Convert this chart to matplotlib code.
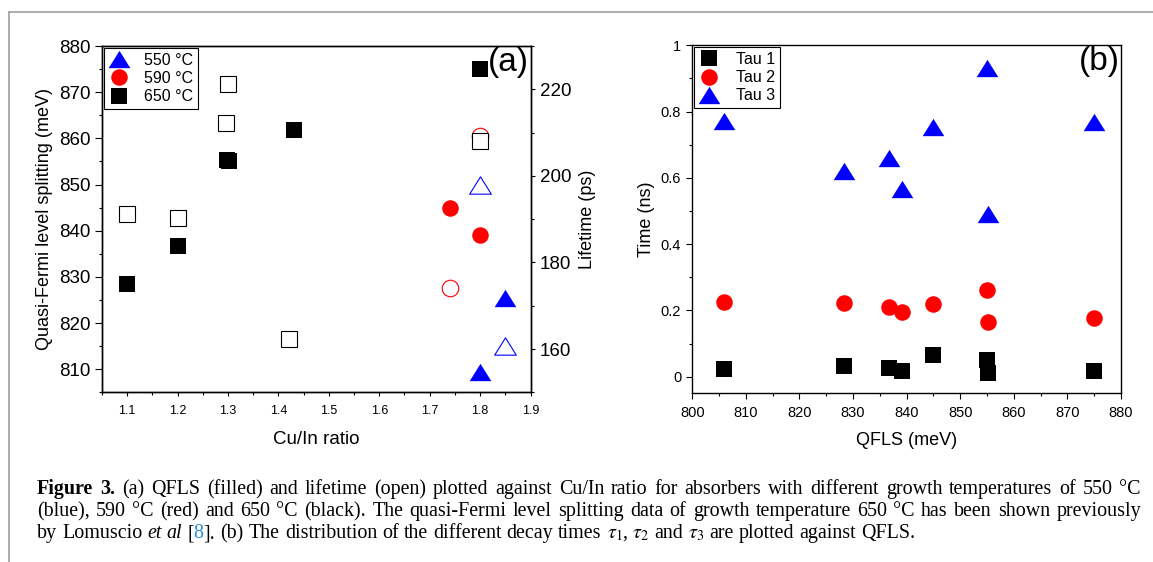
import matplotlib
matplotlib.use('Agg')
import matplotlib.pyplot as plt
from matplotlib.lines import Line2D
from matplotlib.path import Path
from matplotlib.ticker import MultipleLocator

plt.rcParams['font.family'] = ['Liberation Sans', 'DejaVu Sans']
plt.rcParams['mathtext.fontset'] = 'stix'

# (a) QFLS (filled, left axis) against Cu/In ratio
ratio_550 = [1.85, 1.80]
qfls_550 = [825.5, 809.3]
ratio_590 = [1.74, 1.80]
qfls_590 = [845.0, 839.0]
ratio_650 = [1.10, 1.20, 1.298, 1.302, 1.43, 1.80]
qfls_650 = [828.4, 836.6, 855.4, 855.0, 861.8, 875.1]

# (a) lifetime (open, right axis)
lt_ratio_550 = [1.80, 1.85]
lt_550 = [197.8, 160.7]
lt_ratio_590 = [1.74, 1.80]
lt_590 = [174.2, 209.2]
lt_ratio_650 = [1.10, 1.20, 1.296, 1.299, 1.42, 1.80]
lt_650 = [191.1, 190.2, 212.1, 221.2, 162.2, 208.1]

# (b) decay times against QFLS
qfls_b = [806.0, 828.3, 836.7, 839.1, 845.0, 855.0, 855.2, 875.0]
tau1 = [0.022, 0.032, 0.027, 0.017, 0.065, 0.050, 0.010, 0.016]
tau2 = [0.226, 0.223, 0.209, 0.194, 0.220, 0.261, 0.164, 0.177]
tau3 = [0.771, 0.622, 0.659, 0.565, 0.755, 0.933, 0.490, 0.770]

W, H = 1153, 562
fig = plt.figure(figsize=(W / 100, H / 100), dpi=100)


def px(x, y):
    return x / W, 1 - y / H


def box(l, t, r, b):
    return [l / W, 1 - b / H, (r - l) / W, (b - t) / H]


# wide triangle like the Origin symbol
tri = Path([(0, 1), (-1.25, -1), (1.25, -1), (0, 1)],
           [Path.MOVETO, Path.LINETO, Path.LINETO, Path.CLOSEPOLY])
ms_sq, ms_ci, ms_tr = 11.5, 11.9, 15.6

# ---------- panel (a) ----------
ax1 = fig.add_axes(box(102, 46, 530.5, 392.3))
ax1.plot(ratio_550, qfls_550, ls='none', marker=tri, ms=ms_tr, color='#0000ff', mew=0, label='550 °C')
ax1.plot(ratio_590, qfls_590, ls='none', marker='o', ms=ms_ci, color='#ff0000', mew=0, label='590 °C')
ax1.plot(ratio_650, qfls_650, ls='none', marker='s', ms=ms_sq, color='black', mew=0, label='650 °C')
ax1.set_xlim(1.05, 1.9)
ax1.set_ylim(805, 880)
ax1.set_xticks([1.1, 1.2, 1.3, 1.4, 1.5, 1.6, 1.7, 1.8, 1.9])
ax1.set_xticklabels(['1.1', '1.2', '1.3', '1.4', '1.5', '1.6', '1.7', '1.8', '1.9'])
ax1.xaxis.set_minor_locator(MultipleLocator(0.05))
ax1.yaxis.set_major_locator(MultipleLocator(10))
ax1.yaxis.set_minor_locator(MultipleLocator(5))
ax1.tick_params(axis='y', which='major', labelsize=13.5, length=5, width=0.8, direction='out')
ax1.tick_params(axis='y', which='minor', length=2.5, width=0.8, direction='out')
ax1.tick_params(axis='x', which='major', labelsize=9, length=3, width=0.8, direction='out', pad=6.5)
ax1.tick_params(axis='x', which='minor', length=2.5, width=0.8, direction='out')
ax1.set_xlabel('Cu/In ratio', fontsize=13.5, labelpad=10)
ax1.set_ylabel('Quasi-Fermi level splitting (meV)', fontsize=13, labelpad=4)
ax1.text(0.997, 0.997, '(a)', transform=ax1.transAxes, ha='right', va='top', fontsize=24)
leg = ax1.legend(loc='upper left', fontsize=11.5, borderaxespad=0.12, fancybox=False,
                 edgecolor='black', framealpha=1, handlelength=1.3, handletextpad=0.9,
                 borderpad=0.3, labelspacing=0.2)
leg.get_frame().set_linewidth(0.8)

ax2 = ax1.twinx()
ax2.plot(lt_ratio_590, lt_590, ls='none', marker='o', ms=ms_ci, mfc='white', mec='#ff0000', mew=0.8)
ax2.plot(lt_ratio_650, lt_650, ls='none', marker='s', ms=ms_sq, mfc='white', mec='black', mew=0.8)
ax2.plot(lt_ratio_550, lt_550, ls='none', marker=tri, ms=ms_tr, mfc='white', mec='#0000ff', mew=0.8)
ax2.set_ylim(150, 230)
ax2.set_yticks([160, 180, 200, 220])
ax2.yaxis.set_minor_locator(MultipleLocator(10))
ax2.tick_params(axis='y', which='major', labelsize=13.5, length=3, width=0.8, direction='out')
ax2.tick_params(axis='y', which='minor', length=2.5, width=0.8, direction='out')
ax2.set_ylabel('Lifetime (ps)', fontsize=13, labelpad=6)
for a in (ax1, ax2):
    for s in a.spines.values():
        s.set_linewidth(1.0)

# ---------- panel (b) ----------
bx = fig.add_axes(box(692.3, 45.3, 1121, 393.3))
bx.plot(qfls_b, tau1, ls='none', marker='s', ms=ms_sq, color='black', mew=0, label='Tau 1')
bx.plot(qfls_b, tau2, ls='none', marker='o', ms=ms_ci, color='#ff0000', mew=0, label='Tau 2')
bx.plot(qfls_b, tau3, ls='none', marker=tri, ms=ms_tr, color='#0000ff', mew=0, label='Tau 3')
bx.set_xlim(800, 880)
bx.set_ylim(-0.05, 1.0)
bx.xaxis.set_major_locator(MultipleLocator(10))
bx.xaxis.set_minor_locator(MultipleLocator(5))
bx.set_yticks([0, 0.2, 0.4, 0.6, 0.8, 1.0])
bx.set_yticklabels(['0', '0.2', '0.4', '0.6', '0.8', '1'])
bx.yaxis.set_minor_locator(MultipleLocator(0.1))
bx.tick_params(which='major', labelsize=10.5, length=4.5, width=0.8, direction='out')
bx.tick_params(axis='x', which='major', pad=5)
bx.tick_params(which='minor', length=2.5, width=0.8, direction='out')
bx.set_xlabel('QFLS (meV)', fontsize=13, labelpad=8)
bx.set_ylabel('Time (ns)', fontsize=13, labelpad=4)
bx.text(0.997, 0.997, '(b)', transform=bx.transAxes, ha='right', va='top', fontsize=24)
leg = bx.legend(loc='upper left', fontsize=11.5, borderaxespad=0.12, fancybox=False,
                edgecolor='black', framealpha=1, handlelength=1.3, handletextpad=1.0,
                borderpad=0.3, labelspacing=0.2)
leg.get_frame().set_linewidth(0.8)
for s in bx.spines.values():
    s.set_linewidth(1.0)

# ---------- page frame ----------
fig.add_artist(Line2D([9 / W, 1], [1 - 12 / H, 1 - 12 / H], color='#a0a0a0', lw=1.2))
fig.add_artist(Line2D([9 / W, 9 / W], [0, 1 - 12 / H], color='#a0a0a0', lw=1.2))

# ---------- caption ----------
renderer = fig.canvas.get_renderer()
bold = {'weight': 'bold'}
ital = {'style': 'italic'}
plain = {}


def words_of(s, kw=plain):
    return [[(w, kw)] for w in s.split()]


def caption_line(words, y, justify=True, size=14.4, x0=37, x1=1141):
    placed = []
    total = 0
    for word in words:
        parts = []
        w = 0
        for txt, kw in word:
            t = fig.text(0, 0, txt, fontsize=size, family=['Liberation Serif', 'DejaVu Serif'],
                         va='baseline', **kw)
            pw = t.get_window_extent(renderer).width
            parts.append((t, pw))
            w += pw
        placed.append(parts)
        total += w
    if justify:
        gap = (x1 - x0 - total) / (len(words) - 1)
    else:
        gap = size * 100 / 72 * 0.25
    x = x0
    for parts in placed:
        for t, pw in parts:
            t.set_position(px(x, y))
            x += pw
        x += gap


line1 = [[('Figure', bold)], [('3.', bold)]] + words_of(
    '(a) QFLS (filled) and lifetime (open) plotted against Cu/In ratio for absorbers '
    'with different growth temperatures of 550 °C')
line2 = words_of('(blue), 590 °C (red) and 650 °C (black). The quasi-Fermi level splitting '
                 'data of growth temperature 650 °C has been shown previously')
line3 = (words_of('by Lomuscio') + [[('et', ital)], [('al', ital)]]
         + [[('[', plain), ('8', {'color': '#2b8fd6'}), ('].', plain)]]
         + words_of('(b) The distribution of the different decay times')
         + [[(r'$\tau_1$', plain), (',', plain)], [(r'$\tau_2$', plain)], [('and', plain)],
            [(r'$\tau_3$', plain)]]
         + words_of('are plotted against QFLS.'))
caption_line(line1, 494)
caption_line(line2, 516)
caption_line(line3, 538, justify=False)

fig.savefig('out.png', dpi=100)
